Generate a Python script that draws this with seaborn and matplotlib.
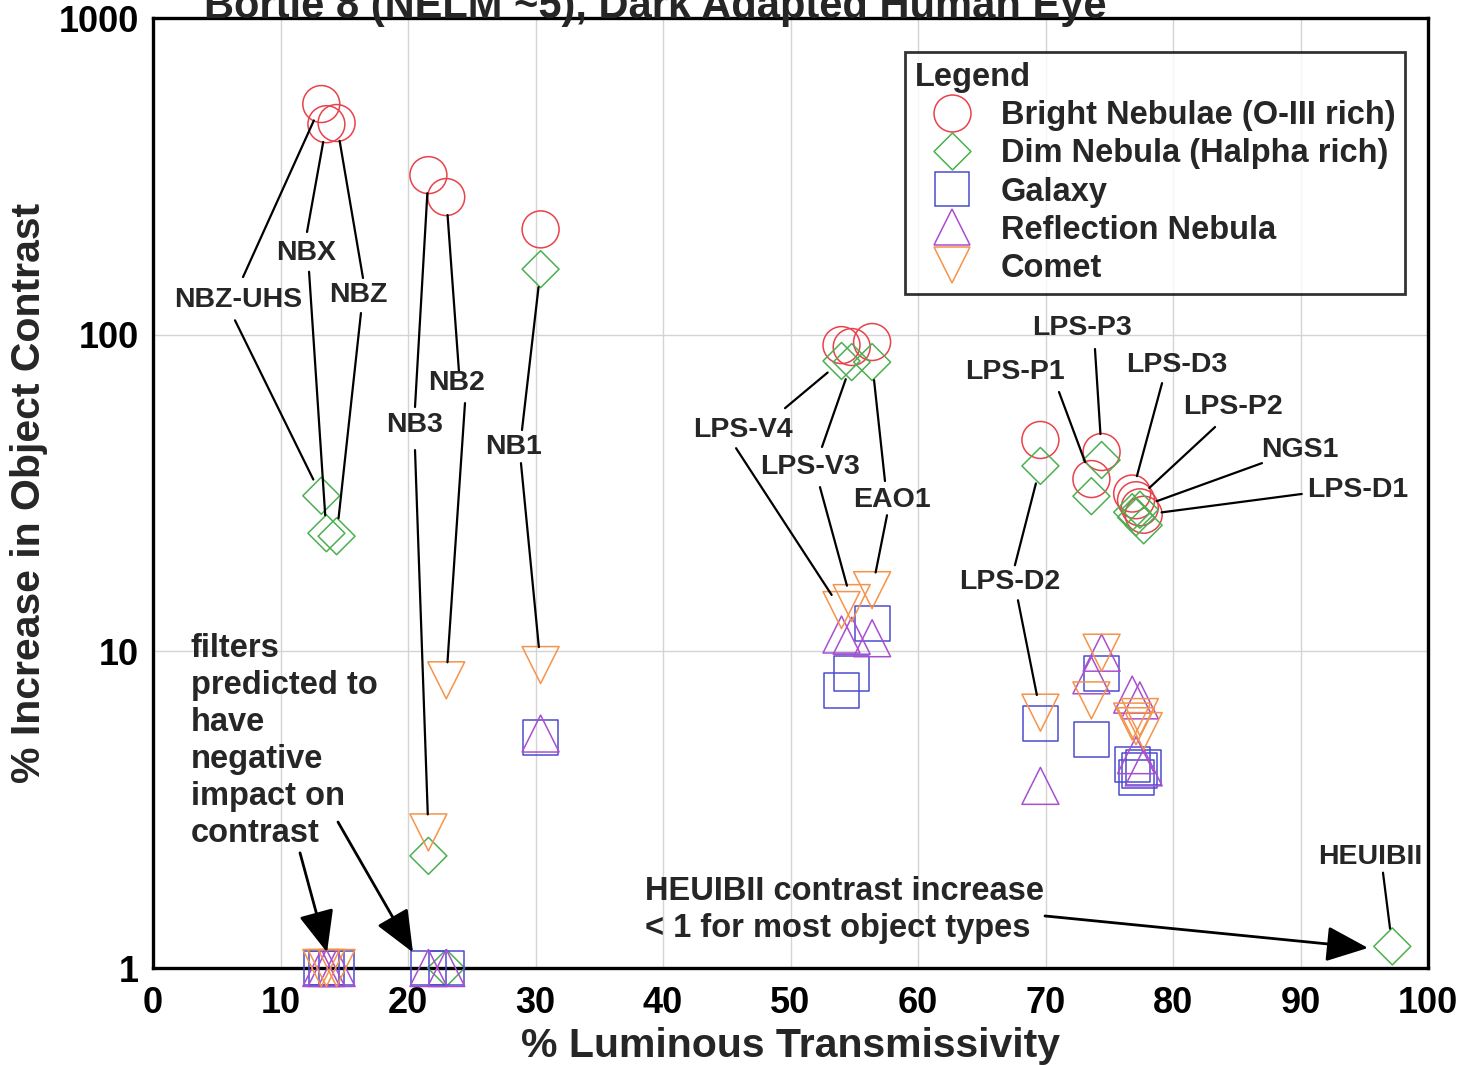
import numpy as np
import pandas as pd
import matplotlib
matplotlib.use("Agg")
import matplotlib.pyplot as plt
from matplotlib.lines import Line2D
from matplotlib.path import Path
from matplotlib.ticker import FixedLocator, NullFormatter, MultipleLocator
import seaborn as sns

# filters and their luminous transmissivity (%)
filters = ["NBZ-UHS", "NBX", "NBZ", "NB3", "NB2", "NB1",
           "LPS-V4", "LPS-V3", "EAO1",
           "LPS-D2", "LPS-P1", "LPS-P3", "LPS-D3", "LPS-P2", "NGS1", "LPS-D1",
           "HEUIBII"]
transmissivity = [13.2, 13.6, 14.4, 21.6, 23.0, 30.4,
                  54.0, 54.8, 56.4,
                  69.6, 73.6, 74.4, 76.8, 77.1, 77.4, 77.7,
                  97.2]

# % increase in object contrast per object type (nan = below 1, not shown)
bright_nebulae = [535, 462, 466, 319, 272, 215,
                  92.7, 91.4, 94.8,
                  46.5, 35.0, 42.6, 31.5, 30.0, 28.5, 27.0,
                  np.nan]
dim_nebula = [31, 23.6, 23.1, 2.26, 1.0, 161,
              82.6, 81.9, 81.9,
              38.5, 30.9, 40.2, 27.5, 26.5, 28.0, 25.0,
              1.17]
galaxy = [1, 1, 1, 1, 1, 5.36,
          7.5, 8.5, 12.2,
          5.9, 5.25, 8.5, 4.4, 4.0, 4.2, 4.3,
          np.nan]
reflection = [1, 1, 1, 1, 1, 5.5,
              11.3, 11.2, 11.0,
              3.76, 8.4, 9.9, 7.3, 4.7, 7.0, 4.3,
              np.nan]
comet = [1, 1, 1, 2.68, 8.1, 9.05,
         13.5, 14.2, 15.6,
         6.4, 7.0, 9.9, 6.0, 5.8, 6.2, 5.6,
         np.nan]

series_names = ["Bright Nebulae (O-III rich)", "Dim Nebula (Halpha rich)",
                "Galaxy", "Reflection Nebula", "Comet"]
series_values = [bright_nebulae, dim_nebula, galaxy, reflection, comet]

rows = []
for name, vals in zip(series_names, series_values):
    for f, x, v in zip(filters, transmissivity, vals):
        rows.append({"filter": f, "trans": x, "contrast": v, "object": name})
df = pd.DataFrame(rows)

# styling - closed diamond as wide as the circle
diamond = Path([(0, 1), (1, 0), (0, -1), (-1, 0), (0, 1)],
               [Path.MOVETO, Path.LINETO, Path.LINETO, Path.LINETO, Path.CLOSEPOLY])
styles = {
    "Bright Nebulae (O-III rich)": ("o", "#e8424a", 708),
    "Dim Nebula (Halpha rich)": (diamond, "#4caf50", 708),
    "Galaxy": ("s", "#4b4bcf", 635),
    "Reflection Nebula": ("^", "#a84fd0", 708),
    "Comet": ("v", "#f5934a", 708),
}

sns.set_theme(style="white")
plt.rcParams["font.family"] = ["Liberation Sans", "DejaVu Sans"]
plt.rcParams["font.weight"] = "bold"

fig = plt.figure(figsize=(14.78, 10.65), dpi=100)
ax = fig.add_axes([153 / 1478, 97 / 1065, 1275 / 1478, 950 / 1065])

for name in series_names:
    m, c, s = styles[name]
    sub = df[df["object"] == name]
    sns.scatterplot(data=sub, x="trans", y="contrast", ax=ax, marker=m,
                    s=s, color=c, facecolor="none", edgecolor=c,
                    linewidth=1.1, clip_on=False, zorder=3, legend=False)

ax.set_yscale("log")
ax.set_xlim(0, 100)
ax.set_ylim(1, 1000)

ax.set_xticks(range(0, 101, 10))
ax.xaxis.set_minor_locator(MultipleLocator(2))
ax.set_yticks([1, 10, 100, 1000])
ax.set_yticklabels(["1", "10", "100", "1000"])
ax.yaxis.set_minor_locator(FixedLocator([d * k for d in (1, 10, 100) for k in range(2, 10)]))
ax.yaxis.set_minor_formatter(NullFormatter())
ax.tick_params(axis="both", which="major", direction="in", length=14, width=1.5,
               labelsize=26, colors="black")
ax.tick_params(axis="x", which="major", pad=13)
ax.tick_params(axis="y", which="major", pad=10)
ax.tick_params(axis="both", which="minor", direction="in", length=7, width=1.2)
ax.tick_params(top=False, right=False, which="both")
for lab in ax.get_xticklabels() + ax.get_yticklabels():
    lab.set_fontweight("bold")

ax.grid(True, which="major", color="#d4d4d4", linewidth=1.0)
ax.set_axisbelow(True)
for sp in ax.spines.values():
    sp.set_color("black")
    sp.set_linewidth(2.4)

ax.set_xlabel("% Luminous Transmissivity", fontsize=29.5, fontweight="bold", labelpad=4)
ax.set_ylabel("% Increase in Object Contrast", fontsize=29.5, fontweight="bold", labelpad=8)

fig.text(0.443, 1 - 18 / 1065, "Bortle 8 (NELM ~5), Dark Adapted Human Eye",
         ha="center", va="baseline", fontsize=30, fontweight="bold")

# filter labels with connector lines: (text pos, [(line start, target series)])
lookup = {(n, f): (x, v) for n, vals in zip(series_names, series_values)
          for f, x, v in zip(filters, transmissivity, vals)}
B, D, C = series_names[0], series_names[1], series_names[4]
label_layout = {
    "NBZ-UHS": ((6.67, 128.6), [((7.06, 152), B), ((6.43, 111), D)]),
    "NBX": ((12.0, 181), [((12.08, 211), B), ((12.24, 158), D)]),
    "NBZ": ((16.08, 133), [((16.47, 151), B), ((16.31, 117), D)]),
    "NB3": ((20.55, 51.8), [((20.55, 59.1), B), ((20.55, 43.2), C)]),
    "NB2": ((23.84, 70.3), [((24.0, 76.2), B), ((24.47, 60.8), C)]),
    "NB1": ((28.24, 44.2), [((28.94, 50.0), D), ((28.86, 39.3), C)]),
    "LPS-V4": ((46.27, 50.0), [((49.57, 58.6), D), ((45.73, 43.8), C)]),
    "LPS-V3": ((51.53, 38.2), [((52.47, 44.2), D), ((52.31, 33.0), C)]),
    "EAO1": ((57.96, 30.0), [((57.41, 34.5), D), ((57.57, 26.9), C)]),
    "LPS-P3": ((72.86, 105), [((73.88, 90.1), B)]),
    "LPS-P1": ((67.6, 76.2), [((71.06, 65.9), B)]),
    "LPS-D3": ((80.31, 80.2), [((79.14, 70.3), B)]),
    "LPS-P2": ((84.7, 59.1), [((83.3, 51.1), B)]),
    "NGS1": ((89.96, 43.2), [((86.98, 39.3), B)]),
    "LPS-D1": ((94.5, 32.3), [((90.1, 31.4), B)]),
    "LPS-D2": ((67.2, 16.6), [((67.6, 18.7), D), ((67.84, 14.5), C)]),
    "HEUIBII": ((95.45, 2.24), [((96.47, 2.0), D)]),
}
for f, (pos, links) in label_layout.items():
    ax.text(pos[0], pos[1], f, ha="center", va="center", fontsize=20.5,
            fontweight="bold", zorder=5)
    for start, series in links:
        tx, ty = lookup[(series, f)]
        ax.annotate("", xy=(tx, ty), xytext=start,
                    arrowprops=dict(arrowstyle="-", color="black", lw=1.6,
                                    shrinkA=0, shrinkB=13), zorder=4)

# notes with arrows
ax.text(2.98, 11.4, "filters\npredicted to\nhave\nnegative\nimpact on\ncontrast",
        ha="left", va="top", fontsize=23.5, fontweight="bold", linespacing=1.25)
head = "-|>,head_length=1.3,head_width=0.55"
for start, tip in [((11.53, 2.31), (13.65, 1.12)), ((14.51, 2.89), (20.39, 1.12))]:
    ax.annotate("", xy=tip, xytext=start,
                arrowprops=dict(arrowstyle=head, color="black", lw=2,
                                mutation_scale=20, shrinkA=0, shrinkB=0),
                annotation_clip=False)

ax.text(38.6, 1.52, "HEUIBII contrast increase\n< 1 for most object types",
        ha="left", va="center", fontsize=23.5, fontweight="bold", linespacing=1.25)
ax.annotate("", xy=(95.3, 1.157), xytext=(69.96, 1.46),
            arrowprops=dict(arrowstyle=head, color="black", lw=2,
                            mutation_scale=20, shrinkA=0, shrinkB=0))

# legend
handles = [Line2D([], [], linestyle="", marker=styles[n][0],
                  markersize=np.sqrt(styles[n][2]), markerfacecolor="none",
                  markeredgecolor=styles[n][1], markeredgewidth=1.1)
           for n in series_names]
leg = ax.legend(handles, series_names, title="Legend", loc="upper left",
                bbox_to_anchor=(0.59, 0.964), borderaxespad=0, frameon=True,
                fancybox=False, prop={"size": 23.5, "weight": "bold"},
                title_fontproperties={"size": 23.5, "weight": "bold"},
                borderpad=0.3, handlelength=2.28, handletextpad=0.34,
                labelspacing=0.22)
leg._legend_box.align = "left"
leg.get_frame().set_edgecolor("black")
leg.get_frame().set_linewidth(2)
leg.set_zorder(6)

fig.savefig("out.png", dpi=100)
